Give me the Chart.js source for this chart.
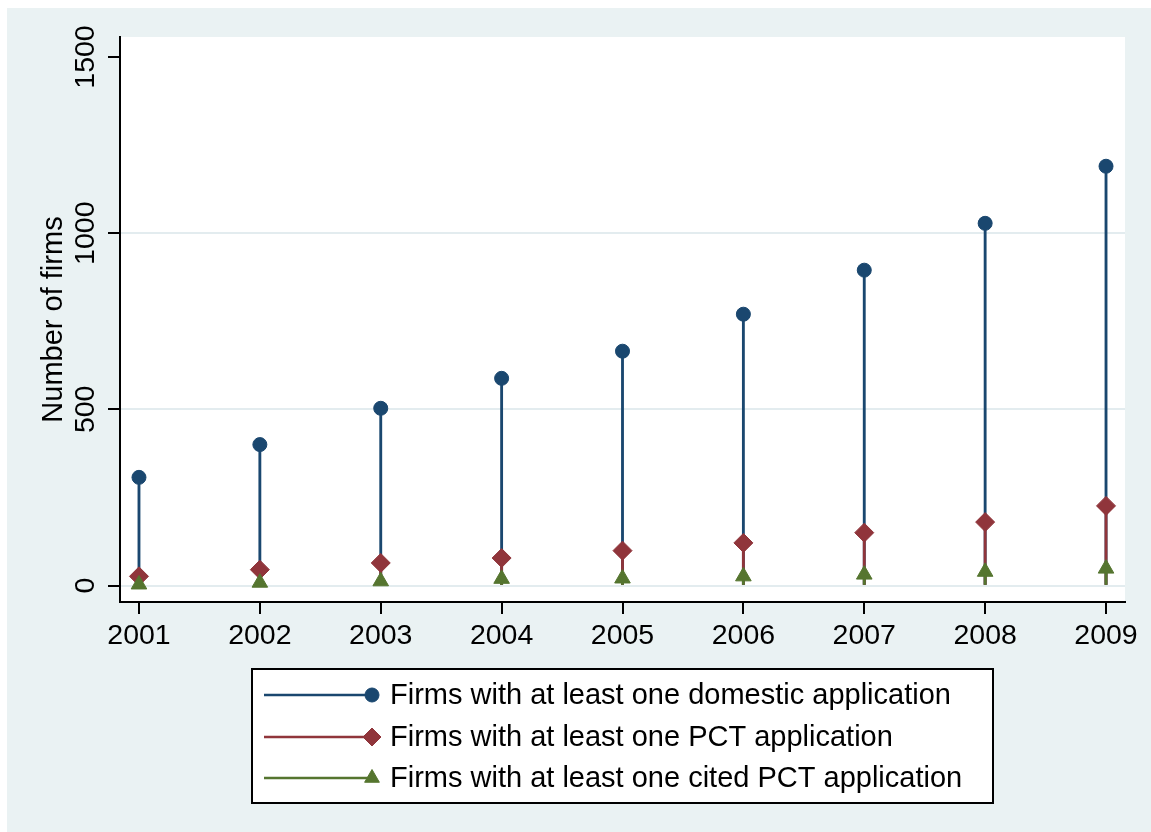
<!DOCTYPE html>
<html>
<head>
<meta charset="utf-8">
<script src="https://cdn.jsdelivr.net/npm/chart.js@4"></script>
<style>
  html, body { margin: 0; padding: 0; background: #ffffff; }
  #wrap { width: 1151px; height: 832px; position: relative; }
</style>
</head>
<body>
<div id="wrap"><canvas id="c" width="1151" height="832"></canvas></div>
<script>
// ---- data ----
const years = [2001, 2002, 2003, 2004, 2005, 2006, 2007, 2008, 2009];
const domestic = [307, 400, 503, 588, 665, 770, 895, 1028, 1190];
const pct = [26, 45, 64, 78, 99, 121, 150, 180, 226];
const citedPct = [3, 8, 12, 19, 20, 26, 31, 39, 48];
const yTicks = [0, 500, 1000, 1500];
const seriesLabels = [
  'Firms with at least one domestic application',
  'Firms with at least one PCT application',
  'Firms with at least one cited PCT application'
];
const yTitle = 'Number of firms';

// ---- styles ----
const colors = ['#1A476F', '#90353B', '#55752F'];
const styles = ['circle', 'rectRot', 'triangle'];
const radii = [7, 9.5, 9];
const legendRadii = [7, 9, 8.5];
const FONT = "'Liberation Sans', Arial, sans-serif";

const stemData = arr => years.map((yr, i) => ({ x: yr, y: [0, arr[i]] }));
const ptData = arr => years.map((yr, i) => ({ x: yr, y: arr[i] }));
const series = [domestic, pct, citedPct];

const datasets = [];
series.forEach((arr, k) => {
  datasets.push({
    type: 'bar',
    label: seriesLabels[k] + ' (stem)',
    data: stemData(arr),
    backgroundColor: colors[k],
    borderWidth: 0,
    barThickness: 2.2,
    grouped: false,
    order: 9 - k
  });
});
series.forEach((arr, k) => {
  datasets.push({
    type: 'line',
    label: seriesLabels[k],
    data: ptData(arr),
    showLine: false,
    pointStyle: styles[k],
    pointRadius: radii[k],
    pointBackgroundColor: colors[k],
    pointBorderColor: colors[k],
    pointBorderWidth: 1,
    order: 6 - k
  });
});

const bgPlugin = {
  id: 'bg',
  beforeDraw(chart) {
    const ctx = chart.ctx;
    const a = chart.chartArea;
    ctx.save();
    ctx.fillStyle = '#ffffff';
    ctx.fillRect(0, 0, chart.width, chart.height);
    ctx.fillStyle = '#EAF2F3';
    ctx.fillRect(7, 8, chart.width - 7, chart.height - 8);
    ctx.fillStyle = '#ffffff';
    ctx.fillRect(a.left, a.top, a.right - a.left, a.bottom - a.top);
    ctx.restore();
  }
};

const legendPlugin = {
  id: 'stataLegend',
  afterDraw(chart) {
    const ctx = chart.ctx;
    ctx.save();
    const bx = 252, by = 669, bw = 741, bh = 134;
    ctx.fillStyle = '#ffffff';
    ctx.fillRect(bx, by, bw, bh);
    ctx.strokeStyle = '#000000';
    ctx.lineWidth = 2;
    ctx.strokeRect(bx, by, bw, bh);
    const rows = [695, 737, 778];
    seriesLabels.forEach((lab, k) => {
      const y = rows[k];
      ctx.strokeStyle = colors[k];
      ctx.lineWidth = 2.5;
      ctx.beginPath();
      ctx.moveTo(264, y);
      ctx.lineTo(372, y);
      ctx.stroke();
      ctx.fillStyle = colors[k];
      ctx.strokeStyle = colors[k];
      ctx.lineWidth = 1;
      Chart.helpers.drawPoint(ctx, { pointStyle: styles[k], radius: legendRadii[k], rotation: 0, borderWidth: 1 }, 372, y);
      ctx.fillStyle = '#000000';
      ctx.font = '29px ' + FONT;
      ctx.textAlign = 'left';
      ctx.textBaseline = 'middle';
      ctx.fillText(lab, 390, y + 1);
    });
    ctx.restore();
  }
};

new Chart(document.getElementById('c'), {
  type: 'bar',
  data: { datasets },
  options: {
    responsive: false,
    animation: false,
    devicePixelRatio: 1,
    layout: { autoPadding: false, padding: { left: 0, top: 37, right: 26, bottom: 0 } },
    plugins: { legend: { display: false }, tooltip: { enabled: false } },
    scales: {
      x: {
        type: 'linear',
        min: 2000.843,
        max: 2009.157,
        offset: false,
        afterFit: s => { s.height = 230; },
        afterBuildTicks: s => { s.ticks = years.map(v => ({ value: v })); },
        grid: { offset: false, drawOnChartArea: false, drawTicks: true, tickLength: 12, color: '#000000', tickColor: '#000000', lineWidth: 2, tickWidth: 2 },
        border: { display: true, color: '#000000', width: 2 },
        ticks: { color: '#000000', font: { family: FONT, size: 28.5 }, padding: 5, maxRotation: 0, minRotation: 0, autoSkip: false, callback: v => String(v) }
      },
      y: {
        type: 'linear',
        min: -46.8,
        max: 1556.8,
        afterFit: s => { s.width = 120; },
        afterBuildTicks: s => { s.ticks = yTicks.map(v => ({ value: v })); },
        grid: {
          drawOnChartArea: true, drawTicks: true, tickLength: 12,
          color: c => (c.tick && c.tick.value === 1500) ? 'rgba(0,0,0,0)' : '#E3ECEF',
          tickColor: '#000000', lineWidth: 2, tickWidth: 2
        },
        border: { display: true, color: '#000000', width: 2 },
        ticks: { color: '#000000', font: { family: FONT, size: 28.5 }, padding: -9.6, minRotation: 90, maxRotation: 90, crossAlign: 'center', autoSkip: false, callback: v => String(v) },
        title: { display: true, text: yTitle, color: '#000000', font: { family: FONT, size: 29 }, padding: { top: 37, bottom: 0 } }
      }
    }
  },
  plugins: [bgPlugin, legendPlugin]
});
</script>
</body>
</html>
